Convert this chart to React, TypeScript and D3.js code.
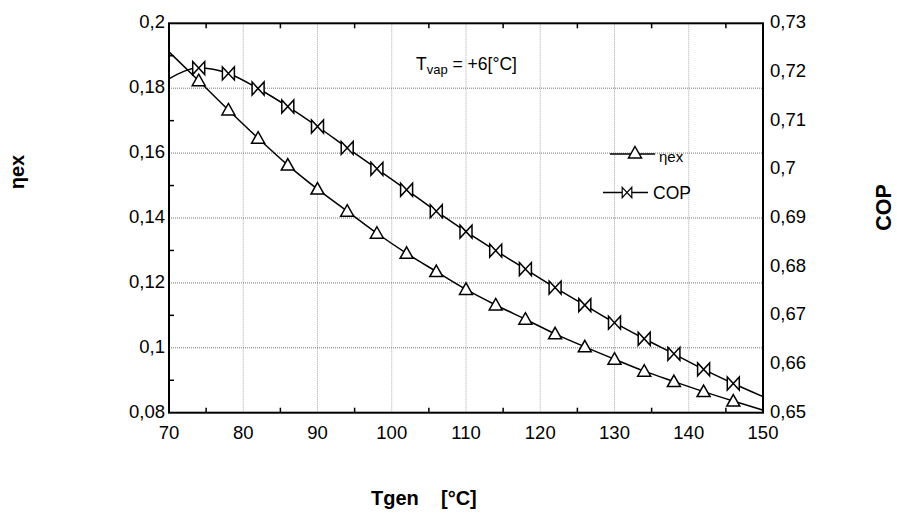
import React from "react";
import * as d3 from "d3";

const tgen = [74, 78, 82, 86, 90, 94, 98, 102, 106, 110, 114, 118, 122, 126, 130, 134, 138, 142, 146];
const etaEx = [0.1823, 0.1733, 0.1646, 0.1563, 0.1489, 0.1421, 0.1353, 0.1291, 0.1235, 0.118, 0.1132, 0.1088, 0.1043, 0.1003, 0.0965, 0.0928, 0.0896, 0.0865, 0.0836];
const cop = [0.7208, 0.7197, 0.7166, 0.7129, 0.7088, 0.7044, 0.7001, 0.6958, 0.6914, 0.6872, 0.6833, 0.6795, 0.6757, 0.6721, 0.6685, 0.6652, 0.6621, 0.6589, 0.656];
// fitted curve end values at the x-axis limits
const fitX = [70, 150];
const etaFitEnds = [0.1912, 0.0808];
const copFitEnds = [0.7186, 0.6533];

const xTicks = [70, 80, 90, 100, 110, 120, 130, 140, 150];
const xMinor = [75, 85, 95, 105, 115, 125, 135, 145];
const yLeftTicks = [0.08, 0.1, 0.12, 0.14, 0.16, 0.18, 0.2];
const yLeftLabels = ["0,08", "0,1", "0,12", "0,14", "0,16", "0,18", "0,2"];
const yLeftMinor = [0.09, 0.11, 0.13, 0.15, 0.17, 0.19];
const yRightTicks = [0.65, 0.66, 0.67, 0.68, 0.69, 0.7, 0.71, 0.72, 0.73];
const yRightLabels = ["0,65", "0,66", "0,67", "0,68", "0,69", "0,7", "0,71", "0,72", "0,73"];

const L = 169, R = 763, T = 23.3, B = 412.7;
const FONT = "'Liberation Sans', Arial, sans-serif";

const triPath = "M0,-6.5 L6.5,5 L-6.5,5 Z";
const bowPath = "M-6,-6.5 L6,6.5 L6,-6.5 L-6,6.5 Z";

export default function App() {
  const x = d3.scaleLinear().domain([70, 150]).range([L, R]);
  const yL = d3.scaleLinear().domain([0.08, 0.2]).range([B, T]);
  const yR = d3.scaleLinear().domain([0.65, 0.73]).range([B, T]);

  const etaPts: [number, number][] = [[fitX[0], etaFitEnds[0]], ...tgen.map((t, i) => [t, etaEx[i]] as [number, number]), [fitX[1], etaFitEnds[1]]];
  const copPts: [number, number][] = [[fitX[0], copFitEnds[0]], ...tgen.map((t, i) => [t, cop[i]] as [number, number]), [fitX[1], copFitEnds[1]]];

  const etaLine = d3.line<[number, number]>().x(d => x(d[0])).y(d => yL(d[1])).curve(d3.curveMonotoneX);
  const copLine = d3.line<[number, number]>().x(d => x(d[0])).y(d => yR(d[1])).curve(d3.curveMonotoneX);

  return (
    <svg width={897} height={513} style={{ position: "absolute", left: 0, top: 0, background: "#fff" }} fontFamily={FONT}>
      <rect x={0} y={0} width={897} height={513} fill="#fff" />
      {/* grid */}
      {xTicks.slice(1, -1).map(t => (
        <line key={"gx" + t} x1={x(t)} x2={x(t)} y1={T} y2={B} stroke="#aaa" strokeWidth={1} strokeDasharray="1,1" />
      ))}
      {yLeftTicks.slice(1, -1).map(t => (
        <line key={"gy" + t} x1={L} x2={R} y1={yL(t)} y2={yL(t)} stroke="#777" strokeWidth={1} strokeDasharray="1,1" />
      ))}
      {/* minor ticks */}
      {xMinor.map(t => (
        <g key={"mx" + t}>
          <line x1={x(t)} x2={x(t)} y1={B} y2={B - 5} stroke="#000" strokeWidth={1.5} />
          <line x1={x(t)} x2={x(t)} y1={T} y2={T + 5} stroke="#000" strokeWidth={1.5} />
        </g>
      ))}
      {yLeftMinor.map(t => (
        <line key={"my" + t} x1={L} x2={L + 5} y1={yL(t)} y2={yL(t)} stroke="#000" strokeWidth={1.5} />
      ))}
      {/* curves */}
      <path d={etaLine(etaPts) || ""} fill="none" stroke="#000" strokeWidth={1.5} />
      <path d={copLine(copPts) || ""} fill="none" stroke="#000" strokeWidth={1.5} />
      {tgen.map((t, i) => (
        <path key={"te" + t} d={triPath} transform={`translate(${x(t)},${yL(etaEx[i])})`} fill="#fff" stroke="#000" strokeWidth={1.5} />
      ))}
      {tgen.map((t, i) => (
        <path key={"tc" + t} d={bowPath} transform={`translate(${x(t)},${yR(cop[i])})`} fill="#fff" stroke="#000" strokeWidth={1.5} strokeLinejoin="miter" />
      ))}
      {/* frame */}
      <rect x={L} y={T} width={R - L} height={B - T} fill="none" stroke="#000" strokeWidth={2} />
      {/* tick labels */}
      {xTicks.map(t => (
        <text key={"xl" + t} x={x(t)} y={439} textAnchor="middle" fontSize={18.5}>{t}</text>
      ))}
      {yLeftTicks.map((t, i) => (
        <text key={"yl" + t} x={165} y={yL(t) + 5} textAnchor="end" fontSize={18.5}>{yLeftLabels[i]}</text>
      ))}
      {yRightTicks.map((t, i) => (
        <text key={"yr" + t} x={770} y={yR(t) + 5} textAnchor="start" fontSize={18.5}>{yRightLabels[i]}</text>
      ))}
      {/* annotation */}
      <text x={416} y={70} fontSize={17.5}>
        T<tspan fontSize={13} dy={4}>vap</tspan><tspan dy={-4}> = +6[°C]</tspan>
      </text>
      {/* legend */}
      <line x1={610} x2={655} y1={154} y2={154} stroke="#000" strokeWidth={1.5} />
      <path d={triPath} transform="translate(635,153)" fill="#fff" stroke="#000" strokeWidth={1.5} />
      <text x={659} y={161.5} fontSize={15}>ηex</text>
      <line x1={603} x2={648} y1={192.5} y2={192.5} stroke="#000" strokeWidth={1.5} />
      <path d={bowPath} transform="translate(627,192.5) scale(0.8)" fill="#fff" stroke="#000" strokeWidth={1.5} />
      <text x={653} y={198.5} fontSize={17.5}>COP</text>
      {/* axis titles */}
      <text y={505} fontSize={20} fontWeight="bold">
        <tspan x={371}>Tgen</tspan>
        <tspan x={441}>[°C]</tspan>
      </text>
      <text transform="translate(24,172) rotate(-90)" textAnchor="middle" fontSize={20} fontWeight="bold">ηex</text>
      <text transform="translate(891,207.5) rotate(-90)" textAnchor="middle" fontSize={21.5} fontWeight="bold">COP</text>
    </svg>
  );
}
